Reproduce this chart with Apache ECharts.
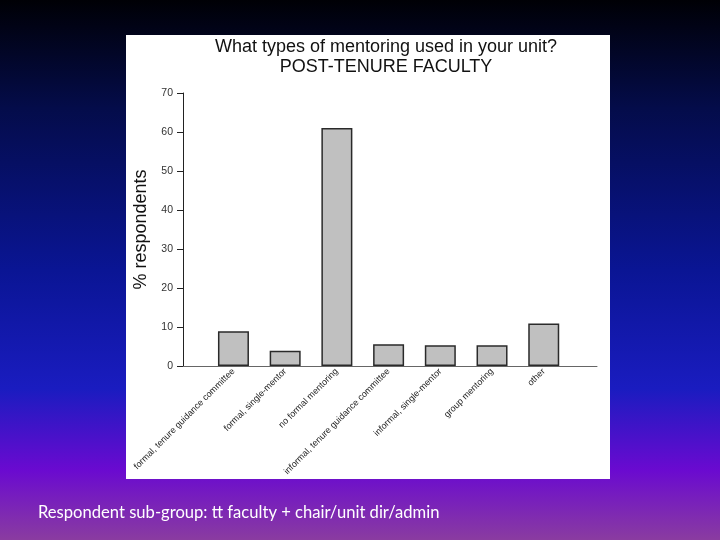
<!DOCTYPE html>
<html><head><meta charset="utf-8">
<script src="https://cdn.jsdelivr.net/npm/echarts@6/dist/echarts.min.js"></script>
<style>html,body{margin:0;padding:0;}#c{width:720px;height:540px;}</style>
</head><body><div id="c"></div>
<script>
var categories = ["formal, tenure guidance committee","formal, single-mentor","no formal mentoring","informal, tenure guidance committee","informal, single-mentor","group mentoring","other"];
var values = [8.9, 3.9, 61, 5.6, 5.3, 5.3, 10.9];
var yTicks = [0, 10, 20, 30, 40, 50, 60, 70];
var titleText = "What types of mentoring used in your unit?\nPOST-TENURE FACULTY";
var yName = "% respondents";
var footer = "Respondent sub-group: tt faculty + chair/unit dir/admin";

var chart = echarts.init(document.getElementById('c'), null, {renderer:'canvas'});
var font = "'Liberation Sans', Arial, sans-serif";
chart.setOption({
  animation:false,
  backgroundColor:{type:'linear',x:0,y:0,x2:0,y2:1,colorStops:[
    {offset:0,color:'#000005'},{offset:0.2,color:'#040c4a'},{offset:0.5,color:'#0a1594'},
    {offset:0.72,color:'#1a1cc0'},{offset:0.87,color:'#6a0ad0'},{offset:1,color:'#8a3ca0'}]},
  graphic:[{type:'rect',z:-10,shape:{x:126,y:35,width:484,height:444},style:{fill:'#ffffff'}}],
  title:[
    {text:titleText,left:386,top:37,padding:0,textAlign:'center',
     textStyle:{fontFamily:font,fontSize:18,fontWeight:'normal',color:'#111',lineHeight:20}},
    {text:footer,left:38,top:504,padding:0,textStyle:{fontFamily:"Lato, 'Open Sans', sans-serif",fontSize:16.6,fontWeight:'normal',color:'#ffffff'}}
  ],
  grid:[
    {left:183,top:93,width:414,height:273},
    {left:207.6,top:93,width:362,height:273}
  ],
  xAxis:[
    {type:'value',gridIndex:0,min:0,max:1,axisLine:{show:true,onZero:false,lineStyle:{color:'#666',width:1}},
     axisTick:{show:false},axisLabel:{show:false},splitLine:{show:false}},
    {type:'category',gridIndex:1,data:categories,axisLine:{show:false},axisTick:{show:false},
     axisLabel:{rotate:45,interval:0,fontFamily:font,fontSize:9,color:'#222',margin:4}}
  ],
  yAxis:[
    {type:'value',gridIndex:0,min:yTicks[0],max:yTicks[yTicks.length-1],interval:10,
     name:yName,nameLocation:'middle',nameGap:29,nameRotate:90,
     nameTextStyle:{fontFamily:font,fontSize:18,color:'#111'},
     axisLine:{show:true,lineStyle:{color:'#222',width:1}},
     axisTick:{show:true,length:6,lineStyle:{color:'#222'}},
     axisLabel:{fontFamily:font,fontSize:10.5,color:'#333',margin:10},splitLine:{show:false}},
    {type:'value',gridIndex:1,min:0,max:70,show:false}
  ],
  series:[{type:'bar',xAxisIndex:1,yAxisIndex:1,data:values,barWidth:31,
    itemStyle:{color:'#c0c0c0',borderColor:'#2a2a2a',borderWidth:1.5}}]
});
</script></body></html>
